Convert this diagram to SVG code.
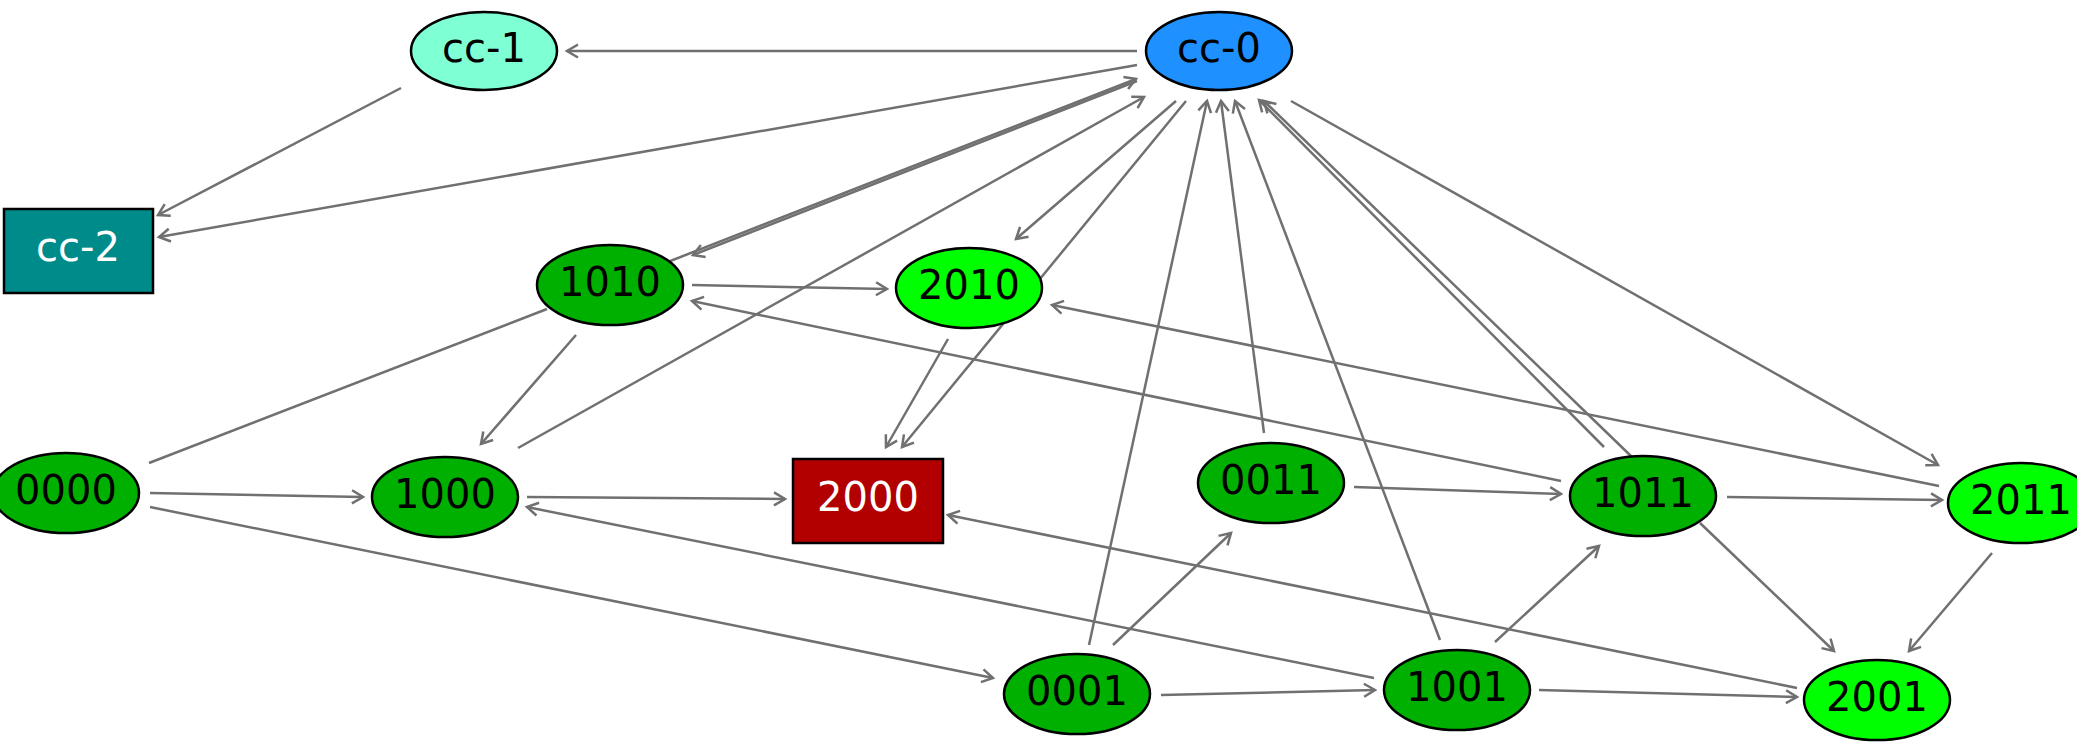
<svg xmlns="http://www.w3.org/2000/svg" width="2077" height="747" viewBox="0 0 2077 747">
  <style>
    .edge { fill: none; stroke: #707070; stroke-width: 2.5; }
    .arrowed { marker-end: url(#arr); }
    .node { stroke: #000; stroke-width: 2.5; }
    .lbl { font-family: "DejaVu Sans", "Liberation Sans", sans-serif; font-size: 40px; text-anchor: middle; fill: #000; }
    .lbl.light { fill: #fff; }
    .dark { fill: #00b000; }
    .lime { fill: #00ff00; }
  </style>
  <defs>
    <marker id="arr" markerUnits="userSpaceOnUse" markerWidth="20" markerHeight="20" viewBox="-14 -10 16 20" refX="0" refY="0" orient="auto">
      <path d="M-11,-6.5 L0,0 L-11,6.5" fill="none" stroke="#707070" stroke-width="2.5"/>
    </marker>
  </defs>
  <rect width="2077" height="747" fill="#fff"/>

  <!-- connectors -->
  <g id="edges">
    <path class="edge arrowed" d="M1137,51 L567,51"/>
    <path class="edge arrowed" d="M401,88 L158,215"/>
    <path class="edge arrowed" d="M1137,65 L159,237"/>
    <path class="edge arrowed" d="M660,265 L1136,79"/>
    <path class="edge arrowed" d="M1137,81 L693,255"/>
    <path class="edge arrowed" d="M518,448 L1144,97"/>
    <path class="edge arrowed" d="M1176,101 L1016,239"/>
    <path class="edge arrowed" d="M1186,101 L902,447"/>
    <path class="edge arrowed" d="M948,339 L886,447"/>
    <path class="edge arrowed" d="M1089,645 L1207,101"/>
    <path class="edge arrowed" d="M1264,433 L1221,101"/>
    <path class="edge arrowed" d="M1440,640 L1235,101"/>
    <path class="edge arrowed" d="M1604,447 L1259,100"/>
    <path class="edge arrowed" d="M1632,457 L1264,101"/>
    <path class="edge arrowed" d="M1291,101 L1938,465"/>
    <path class="edge arrowed" d="M692,285 L887,289"/>
    <path class="edge arrowed" d="M1561,481 L692,301"/>
    <path class="edge arrowed" d="M1939,486 L1052,305"/>
    <path class="edge" d="M149,463 L547,309"/>
    <path class="edge arrowed" d="M576,335 L481,444"/>
    <path class="edge arrowed" d="M150,493 L363,497"/>
    <path class="edge arrowed" d="M150,507 L993,678"/>
    <path class="edge arrowed" d="M527,497 L785,499"/>
    <path class="edge arrowed" d="M1374,678 L527,507"/>
    <path class="edge arrowed" d="M1797,688 L948,515"/>
    <path class="edge arrowed" d="M1354,487 L1561,494"/>
    <path class="edge arrowed" d="M1727,497 L1942,500"/>
    <path class="edge arrowed" d="M1113,645 L1231,533"/>
    <path class="edge arrowed" d="M1161,695 L1375,690"/>
    <path class="edge arrowed" d="M1495,642 L1599,546"/>
    <path class="edge arrowed" d="M1539,690 L1797,697"/>
    <path class="edge arrowed" d="M1700,523 L1834,651"/>
    <path class="edge arrowed" d="M1992,553 L1909,651"/>
  </g>

  <!-- nodes -->
  <g id="n-cc-1"><ellipse class="node" cx="484" cy="51" rx="73" ry="39" fill="#7fffd4"/><text class="lbl" x="484" y="62">cc-1</text></g>
  <g id="n-cc-0"><ellipse class="node" cx="1219" cy="51" rx="73" ry="39" fill="#1e90ff"/><text class="lbl" x="1219" y="62">cc-0</text></g>
  <g id="n-cc-2"><rect class="node" x="4" y="209" width="149" height="84" fill="#008b8b"/><text class="lbl light" x="78" y="261">cc-2</text></g>
  <g id="n-1010"><ellipse class="node dark" cx="610" cy="285" rx="73" ry="40"/><text class="lbl" x="610" y="296">1010</text></g>
  <g id="n-2010"><ellipse class="node lime" cx="969" cy="288" rx="73" ry="40"/><text class="lbl" x="969" y="299">2010</text></g>
  <g id="n-0000"><ellipse class="node dark" cx="66" cy="493" rx="73" ry="40"/><text class="lbl" x="66" y="504">0000</text></g>
  <g id="n-1000"><ellipse class="node dark" cx="445" cy="497" rx="73" ry="40"/><text class="lbl" x="445" y="508">1000</text></g>
  <g id="n-2000"><rect class="node" x="793" y="459" width="150" height="84" fill="#b20000"/><text class="lbl light" x="868" y="511">2000</text></g>
  <g id="n-0011"><ellipse class="node dark" cx="1271" cy="483" rx="73" ry="40"/><text class="lbl" x="1271" y="494">0011</text></g>
  <g id="n-1011"><ellipse class="node dark" cx="1643" cy="496" rx="73" ry="40"/><text class="lbl" x="1643" y="507">1011</text></g>
  <g id="n-2011"><ellipse class="node lime" cx="2021" cy="503" rx="73" ry="40"/><text class="lbl" x="2021" y="514">2011</text></g>
  <g id="n-0001"><ellipse class="node dark" cx="1077" cy="694" rx="73" ry="40"/><text class="lbl" x="1077" y="705">0001</text></g>
  <g id="n-1001"><ellipse class="node dark" cx="1457" cy="690" rx="73" ry="40"/><text class="lbl" x="1457" y="701">1001</text></g>
  <g id="n-2001"><ellipse class="node lime" cx="1877" cy="700" rx="73" ry="40"/><text class="lbl" x="1877" y="711">2001</text></g>
</svg>
